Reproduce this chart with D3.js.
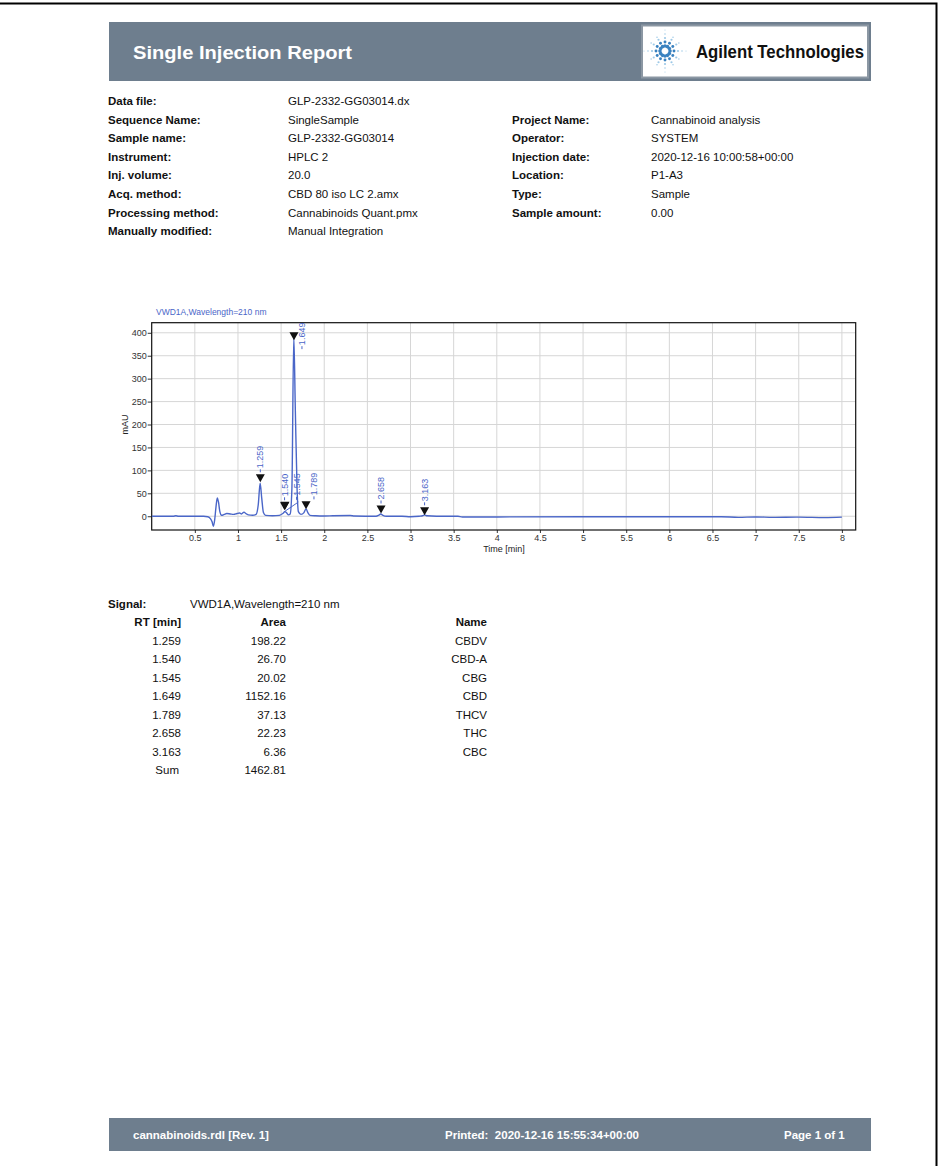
<!DOCTYPE html>
<html>
<head>
<meta charset="utf-8">
<script src="https://cdn.jsdelivr.net/npm/d3@7"></script>
<style>
  html, body { margin: 0; padding: 0; background: #fff; }
  svg { display: block; font-family: "Liberation Sans", Arial, sans-serif; }
</style>
</head>
<body>
<svg id="page" width="941" height="1166"></svg>
<script>
// --- report header data ---
const infoLeft = [
  ["Data file:", "GLP-2332-GG03014.dx"],
  ["Sequence Name:", "SingleSample"],
  ["Sample name:", "GLP-2332-GG03014"],
  ["Instrument:", "HPLC 2"],
  ["Inj. volume:", "20.0"],
  ["Acq. method:", "CBD 80 iso LC 2.amx"],
  ["Processing method:", "Cannabinoids Quant.pmx"],
  ["Manually modified:", "Manual Integration"]
];
const infoRight = [
  null,
  ["Project Name:", "Cannabinoid analysis"],
  ["Operator:", "SYSTEM"],
  ["Injection date:", "2020-12-16 10:00:58+00:00"],
  ["Location:", "P1-A3"],
  ["Type:", "Sample"],
  ["Sample amount:", "0.00"]
];

// --- signal (time [min], mAU) ---
const signalName = "VWD1A,Wavelength=210 nm";
const trace = [
  [0.00, 0], [0.25, 0], [0.28, 1], [0.31, 0], [0.60, 0], [0.65, -1],
  [0.68, -5], [0.70, -12], [0.715, -22], [0.73, -8], [0.745, 20], [0.76, 40],
  [0.775, 30], [0.79, 10], [0.81, 2], [0.84, 4], [0.87, 6], [0.91, 5],
  [0.95, 4], [0.99, 6], [1.02, 7], [1.04, 5], [1.07, 9], [1.09, 6],
  [1.12, 3], [1.17, 2], [1.21, 4], [1.235, 25], [1.257, 72], [1.275, 40],
  [1.295, 8], [1.32, 2], [1.40, 1], [1.48, 2], [1.52, 6], [1.545, 10],
  [1.565, 7], [1.585, 3], [1.605, 5], [1.625, 60], [1.647, 392], [1.665, 230],
  [1.685, 60], [1.70, 10], [1.73, 4], [1.765, 8], [1.789, 16], [1.81, 8],
  [1.835, 2], [1.90, 1], [2.00, 0.5], [2.10, 1], [2.30, 1.5], [2.35, 0.5],
  [2.60, 0], [2.63, 2], [2.655, 5], [2.68, 2], [2.72, 0], [2.90, 0],
  [3.00, -1], [3.10, 0], [3.14, 1], [3.163, 3], [3.19, 1], [3.30, 0],
  [3.55, 0], [3.60, -1.5], [4.00, -1.5], [5.00, -1], [6.00, -1], [6.60, -1],
  [6.80, -2.5], [7.00, -1.5], [7.20, -2.5], [7.50, -2], [7.80, -3], [8.00, -2]
];
// integration baseline drawn under the fused peaks
const baselines = [[1.53, 9, 1.70, 31]];

// --- peak table ---
const peakRT = [1.259, 1.540, 1.545, 1.649, 1.789, 2.658, 3.163];
const peakHeight = [74, 13, 14, 384, 15, 6, 2];
const peakArea = [198.22, 26.70, 20.02, 1152.16, 37.13, 22.23, 6.36];
const peakName = ["CBDV", "CBD-A", "CBG", "CBD", "THCV", "THC", "CBC"];
const areaSum = "1462.81"; // as printed in the report

// --- axes ---
const xTicks = d3.range(0.5, 8.01, 0.5);
const yTicks = d3.range(0, 401, 50);

const svg = d3.select("#page");
const bandColor = "#6e7e8e";
const blue = "#4a66c8";

// page frame
svg.append("path")
  .attr("d", "M0,3.5 H936.5 V1166")
  .attr("fill", "none").attr("stroke", "#000").attr("stroke-width", 2);

// 1) header band
svg.append("rect").attr("x", 109).attr("y", 22).attr("width", 762).attr("height", 59)
  .attr("fill", bandColor);
svg.append("text").attr("x", 133).attr("y", 59)
  .attr("fill", "#fff").attr("font-weight", "bold").attr("font-size", 19)
  .attr("font-family", "'Liberation Sans Narrow', 'Liberation Sans', Arial, sans-serif")
  .attr("textLength", 219).attr("lengthAdjust", "spacingAndGlyphs")
  .text("Single Injection Report");

// logo box
svg.append("rect").attr("x", 642).attr("y", 25.5).attr("width", 226).attr("height", 52)
  .attr("fill", "#fff").attr("stroke", "#8b97a3").attr("stroke-width", 2);
const logo = svg.append("g").attr("transform", "translate(665,51)");
d3.range(12).forEach(i => {
  const a = i * Math.PI / 6;
  const long = i % 3 === 0;
  const steps = long ? [5, 9, 13, 17, 21] : [5, 9, 13, 16];
  steps.forEach((r, k) => {
    logo.append("circle")
      .attr("cx", Math.cos(a) * r).attr("cy", Math.sin(a) * r)
      .attr("r", Math.max(0.5, 1.8 - k * 0.35))
      .attr("fill", k < 2 ? "#3a82c0" : "#9cc8e6");
  });
});
svg.append("text").attr("x", 696).attr("y", 58)
  .attr("font-weight", "bold").attr("font-size", 18).attr("fill", "#111")
  .attr("font-family", "'Liberation Sans Narrow', 'Liberation Sans', Arial, sans-serif")
  .attr("textLength", 168).attr("lengthAdjust", "spacingAndGlyphs")
  .text("Agilent Technologies");

// 2) info block
const rowY = i => 105 + i * 18.6;
const info = svg.append("g").attr("font-size", 11.5).attr("fill", "#111");
infoLeft.forEach((d, i) => {
  info.append("text").attr("x", 108).attr("y", rowY(i)).attr("font-weight", "bold").text(d[0]);
  info.append("text").attr("x", 288).attr("y", rowY(i)).text(d[1]);
});
infoRight.forEach((d, i) => {
  if (!d) return;
  info.append("text").attr("x", 512).attr("y", rowY(i)).attr("font-weight", "bold").text(d[0]);
  info.append("text").attr("x", 651).attr("y", rowY(i)).text(d[1]);
});

// 3) chromatogram
const plot = { left: 151.7, right: 855.7, top: 322.7, bottom: 530 };
const x = d3.scaleLinear().domain([0, 8.16]).range([plot.left, plot.right]);
const y = d3.scaleLinear().domain([-30, 422]).range([plot.bottom, plot.top]);

svg.append("text").attr("x", 156).attr("y", 315)
  .attr("font-size", 8.5).attr("fill", blue).text(signalName);

const chart = svg.append("g").attr("font-size", 9);

// grid
chart.append("g").selectAll("line").data(xTicks).join("line")
  .attr("x1", d => x(d)).attr("x2", d => x(d))
  .attr("y1", plot.top).attr("y2", plot.bottom)
  .attr("stroke", "#d6d6d6");
chart.append("g").selectAll("line").data(yTicks).join("line")
  .attr("x1", plot.left).attr("x2", plot.right)
  .attr("y1", d => y(d)).attr("y2", d => y(d))
  .attr("stroke", "#d6d6d6");

// axes
const xAxis = chart.append("g").attr("transform", `translate(0,${plot.bottom})`)
  .call(d3.axisBottom(x).tickValues(xTicks).tickSize(3).tickPadding(2)
    .tickFormat(d3.format("~g")));
const yAxis = chart.append("g").attr("transform", `translate(${plot.left},0)`)
  .call(d3.axisLeft(y).tickValues(yTicks).tickSize(4).tickPadding(1));
[xAxis, yAxis].forEach(a => {
  a.select(".domain").remove();
  a.selectAll("text").attr("fill", "#333").attr("font-size", 9)
    .attr("font-family", "'Liberation Sans', Arial, sans-serif");
  a.selectAll("line").attr("stroke", "#333");
});

chart.append("rect")
  .attr("x", plot.left).attr("y", plot.top)
  .attr("width", plot.right - plot.left).attr("height", plot.bottom - plot.top)
  .attr("fill", "none").attr("stroke", "#111").attr("stroke-width", 1.2);

chart.append("text").attr("x", 504).attr("y", 552).attr("text-anchor", "middle")
  .attr("fill", "#222").text("Time [min]");
chart.append("text")
  .attr("transform", `translate(128,${y(200)}) rotate(-90)`)
  .attr("text-anchor", "middle").attr("fill", "#222").text("mAU");

// clip for signal and labels
svg.append("clipPath").attr("id", "plotClip").append("rect")
  .attr("x", plot.left).attr("y", plot.top)
  .attr("width", plot.right - plot.left).attr("height", plot.bottom - plot.top);
const inner = chart.append("g").attr("clip-path", "url(#plotClip)");

const line = d3.line().x(d => x(d[0])).y(d => y(d[1])).curve(d3.curveMonotoneX);
inner.append("path").datum(trace).attr("d", line)
  .attr("fill", "none").attr("stroke", blue).attr("stroke-width", 1.4);

inner.selectAll("line.base").data(baselines).join("line").attr("class", "base")
  .attr("x1", d => x(d[0])).attr("y1", d => y(d[1]))
  .attr("x2", d => x(d[2])).attr("y2", d => y(d[3]))
  .attr("stroke", blue).attr("stroke-width", 1);

// peak markers + rotated RT labels
let lastLabelX = -100;
peakRT.forEach((rt, i) => {
  const px = x(rt), py = y(peakHeight[i]);
  inner.append("path")
    .attr("d", `M${px - 4.5},${py - 8} L${px + 4.5},${py - 8} L${px},${py} Z`)
    .attr("fill", "#111");
  const label = rt.toFixed(3);
  const len = label.length * 5 + 6;
  let lx = px + 3, ly = py - 10;
  if (ly - len < plot.top) { lx = px + 11; ly = py + 9; }
  else if (lx - lastLabelX < 10) { lx = lastLabelX + 12; }
  lastLabelX = lx;
  inner.append("line")
    .attr("x1", lx - 3).attr("x2", lx - 3).attr("y1", ly).attr("y2", ly - 3)
    .attr("stroke", blue);
  inner.append("text")
    .attr("transform", `translate(${lx},${ly - 4}) rotate(-90)`)
    .attr("font-size", 9).attr("fill", blue).text(label);
});

// 4) peak table
const tab = svg.append("g").attr("font-size", 11.5).attr("fill", "#111");
tab.append("text").attr("x", 108).attr("y", 608).attr("font-weight", "bold").text("Signal:");
tab.append("text").attr("x", 190).attr("y", 608).text(signalName);
const cols = [181, 286, 487];
["RT [min]", "Area", "Name"].forEach((h, j) => {
  tab.append("text").attr("x", cols[j]).attr("y", 626).attr("text-anchor", "end")
    .attr("font-weight", "bold").text(h);
});
const tRow = i => 644.5 + i * 18.5;
peakRT.forEach((rt, i) => {
  tab.append("text").attr("x", cols[0]).attr("y", tRow(i)).attr("text-anchor", "end").text(rt.toFixed(3));
  tab.append("text").attr("x", cols[1]).attr("y", tRow(i)).attr("text-anchor", "end").text(peakArea[i].toFixed(2));
  tab.append("text").attr("x", cols[2]).attr("y", tRow(i)).attr("text-anchor", "end").text(peakName[i]);
});
tab.append("text").attr("x", cols[0] - 2).attr("y", tRow(peakRT.length)).attr("text-anchor", "end").text("Sum");
tab.append("text").attr("x", cols[1]).attr("y", tRow(peakRT.length)).attr("text-anchor", "end")
  .text(areaSum);

// 5) footer band
svg.append("rect").attr("x", 109).attr("y", 1118).attr("width", 762).attr("height", 33)
  .attr("fill", bandColor);
const foot = svg.append("g").attr("fill", "#fff").attr("font-weight", "bold").attr("font-size", 11.5);
foot.append("text").attr("x", 133).attr("y", 1139).text("cannabinoids.rdl [Rev. 1]");
foot.append("text").attr("x", 445).attr("y", 1139).attr("xml:space", "preserve")
  .text("Printed:  2020-12-16 15:55:34+00:00");
foot.append("text").attr("x", 784).attr("y", 1139).text("Page 1 of 1");
</script>
</body>
</html>
